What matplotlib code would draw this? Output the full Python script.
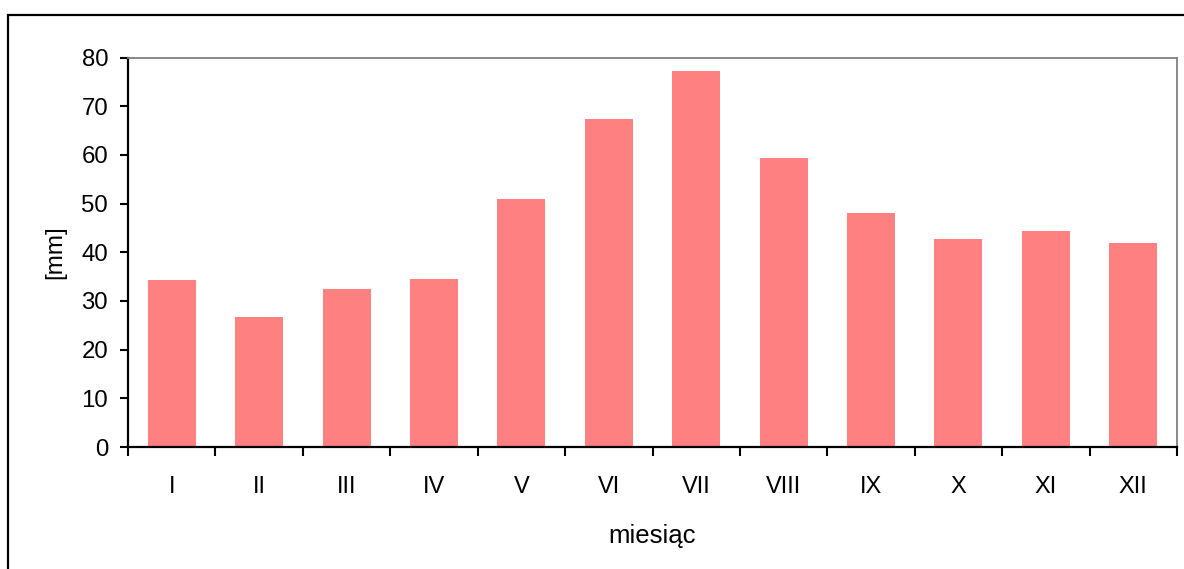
import numpy as np
import matplotlib.pyplot as plt
from matplotlib.patches import Rectangle

plt.rcParams['font.family'] = ['Liberation Sans', 'DejaVu Sans']

# monthly precipitation
months = ['I', 'II', 'III', 'IV', 'V', 'VI', 'VII', 'VIII', 'IX', 'X', 'XI', 'XII']
precip = [34.2, 26.8, 32.5, 34.6, 51.0, 67.4, 77.3, 59.3, 48.1, 42.8, 44.4, 42.0]

fig = plt.figure(figsize=(11.84, 5.69), dpi=100)
ax = fig.add_axes([128/1184, 1 - 447/569, 1049/1184, 389.5/569])

x = np.arange(len(months))
ax.bar(x, precip, width=0.55, color='#FF8080', zorder=2)

ax.set_xlim(-0.5, len(months) - 0.5)
ax.set_ylim(0, 80)
ax.set_yticks(np.arange(0, 81, 10))
ax.set_xticks(x)
ax.set_xticklabels(months)
ax.set_xticks(np.arange(-0.5, len(months)), minor=True)

ax.tick_params(axis='x', which='major', length=0, pad=21, labelsize=17)
ax.tick_params(axis='x', which='minor', length=6.5, width=1.5, direction='out')
ax.tick_params(axis='y', length=5.8, width=1.5, pad=8.5, labelsize=17.3)

for s in ['left', 'bottom']:
    ax.spines[s].set_color('black')
    ax.spines[s].set_linewidth(1.6)
for s in ['top', 'right']:
    ax.spines[s].set_color('#808080')
    ax.spines[s].set_linewidth(1.3)

ax.set_ylabel('[mm]', fontsize=17.5)
ax.yaxis.set_label_coords(-0.059, 0.5)
ax.set_xlabel('miesiąc', fontsize=18.5)
ax.xaxis.set_label_coords(0.5, -0.198)

# outer chart frame
fig.patches.append(Rectangle((8/1184, -0.2), 1.5, 0.2 + 1 - 15/569,
                             transform=fig.transFigure, fill=False,
                             edgecolor='black', linewidth=1.6))

plt.savefig('out.png', dpi=100)
